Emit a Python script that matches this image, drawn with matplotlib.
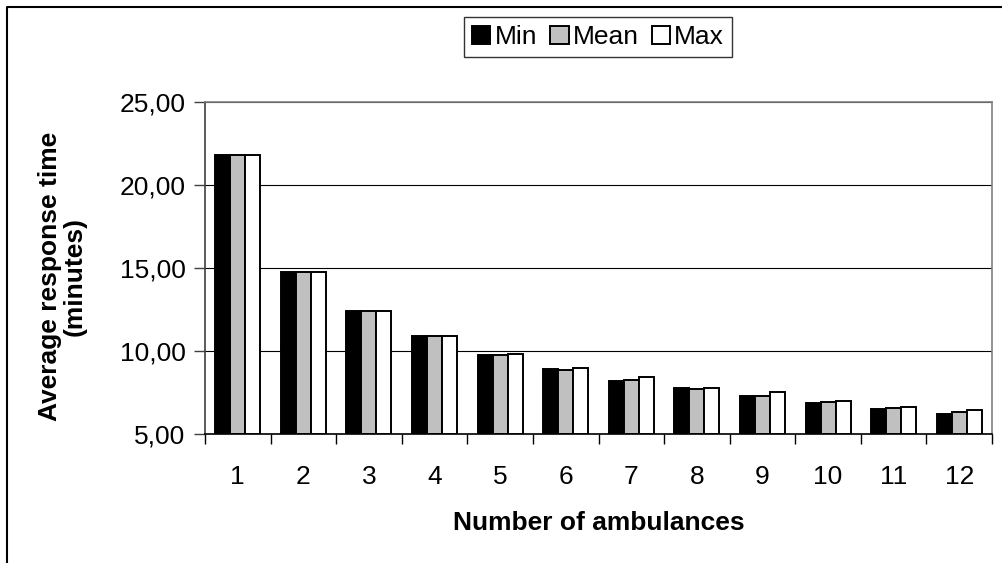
import matplotlib
matplotlib.use('Agg')
import matplotlib.pyplot as plt
import numpy as np
from matplotlib.lines import Line2D
from matplotlib.ticker import FuncFormatter, FixedLocator

plt.rcParams['font.family'] = ['Liberation Sans', 'DejaVu Sans']

# response times per fleet size (minutes)
ambulances = [1, 2, 3, 4, 5, 6, 7, 8, 9, 10, 11, 12]
min_time = [21.80, 14.78, 12.40, 10.93, 9.75, 8.92, 8.20, 7.76, 7.28, 6.86, 6.52, 6.22]
mean_time = [21.80, 14.78, 12.40, 10.93, 9.76, 8.88, 8.27, 7.74, 7.30, 6.92, 6.57, 6.30]
max_time = [21.80, 14.78, 12.40, 10.93, 9.80, 8.95, 8.45, 7.80, 7.52, 7.00, 6.65, 6.45]

series = [('Min', min_time, 'black'),
          ('Mean', mean_time, '#C0C0C0'),
          ('Max', max_time, 'white')]

W, H = 1002, 563
FS = 19
fig = plt.figure(figsize=(W / 100, H / 100), dpi=100)
ax = fig.add_axes([205 / W, 1 - 434 / H, 787 / W, 332 / H])

x = np.array(ambulances)
bw = 0.229
for i, (name, vals, col) in enumerate(series):
    ax.bar(x + (i - 1) * bw, np.array(vals) - 5, bottom=5, width=bw,
           color=col, edgecolor='black', linewidth=1.4, label=name, zorder=3)

ax.set_xlim(0.5, 12.5)
ax.set_ylim(5, 25)
ax.set_yticks([5, 10, 15, 20, 25])
ax.yaxis.set_major_formatter(FuncFormatter(lambda v, p: f'{v:.2f}'.replace('.', ',')))
ax.grid(axis='y', color='black', linewidth=0.8, zorder=0)

# category boundaries carry the tick marks, labels sit in between
ax.xaxis.set_major_locator(FixedLocator(np.arange(0.5, 13, 1)))
ax.xaxis.set_minor_locator(FixedLocator(x))
ax.set_xticklabels([])
ax.set_xticklabels([str(a) for a in ambulances], minor=True)
ax.tick_params(axis='x', which='major', length=7, width=1, color='black', direction='out')
ax.tick_params(axis='x', which='minor', length=0, pad=22, labelsize=FS)
ax.tick_params(axis='y', length=8, width=1, color='#404040', pad=6, labelsize=FS)

for side in ['top', 'right']:
    ax.spines[side].set_color('#808080')
    ax.spines[side].set_linewidth(1.2)
ax.spines['left'].set_color('#404040')
ax.spines['left'].set_linewidth(1.2)
ax.spines['bottom'].set_color('black')
ax.spines['bottom'].set_linewidth(1.2)

ax.set_xlabel('Number of ambulances', fontsize=FS, fontweight='bold', labelpad=16)
fig.text(62 / W, 1 - 276 / H, 'Average response time\n(minutes)', rotation=90,
         ha='center', va='center', fontsize=FS, fontweight='bold', linespacing=1.05)

leg = ax.legend(loc='center', bbox_to_anchor=(598 / W, 1 - 37 / H),
                bbox_transform=fig.transFigure, ncol=3, fontsize=FS,
                frameon=True, fancybox=False, edgecolor='black',
                handlelength=0.7, handleheight=0.7, handletextpad=0.15,
                columnspacing=0.5, borderpad=0.3)
leg.get_frame().set_linewidth(1.0)

# chart border, clipped by the image on the right and bottom
fig.add_artist(Line2D([7 / W, 7 / W, 1.0], [0.0, 1 - 7 / H, 1 - 7 / H],
                      color='black', linewidth=1.5, transform=fig.transFigure))

fig.savefig('out.png', dpi=100, facecolor='white')
